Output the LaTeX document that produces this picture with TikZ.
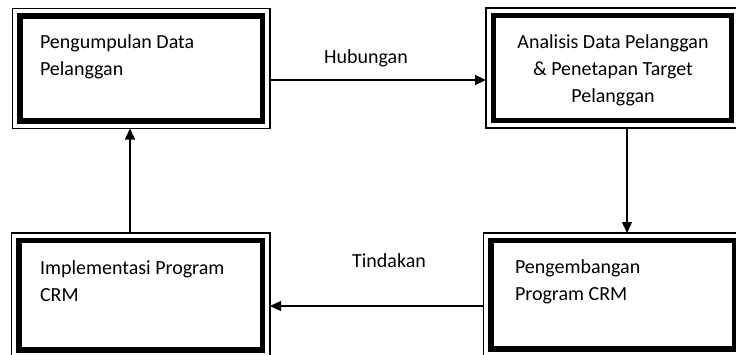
\documentclass[tikz,border=0pt]{standalone}
\usepackage{fontspec}
\setmainfont{Carlito}
\usetikzlibrary{arrows.meta}
\begin{document}
\begin{tikzpicture}[x=1pt,y=-1pt,
  thickbox/.style={draw,line width=5.5pt,inner sep=0pt,outer sep=0pt},
  thinbox/.style={draw,line width=1.1pt,inner sep=0pt,outer sep=0pt},
  boxtext/.style={inner sep=0pt,outer sep=0pt,font=\fontsize{20}{27}\selectfont},
  lbl/.style={inner sep=0pt,font=\fontsize{20}{24}\selectfont},
  arr/.style={line width=1.3pt,-{Triangle[length=11pt,width=10pt]}}]
\useasboundingbox (0,0) rectangle (736,354);
\clip (0,0) rectangle (736,354);
% boxes
\node[thickbox,minimum width=242.5,minimum height=105] (tl) at (141.25,68.5) {};
\node[thinbox,minimum width=257.5,minimum height=120] (tlo) at (tl.center) {};
\node[thickbox,minimum width=238,minimum height=105] (tr) at (612.5,68) {};
\node[thinbox,minimum width=253,minimum height=120] (tro) at (tr.center) {};
\node[thickbox,minimum width=243.5,minimum height=109.5] (bl) at (140.75,295.25) {};
\node[thinbox,minimum width=258.5,minimum height=124.5] (blo) at (bl.center) {};
\node[thickbox,minimum width=243.5,minimum height=108.5] (br) at (612.75,294.75) {};
\node[thinbox,minimum width=258.5,minimum height=123.5] (bro) at (br.center) {};
% texts (base anchor = baseline of last line)
\node[boxtext,align=left,anchor=base west] (t1) at (40,75) {Pengumpulan Data\\Pelanggan};
\node[boxtext,align=center,anchor=base] (t2) at (613,102) {Analisis Data Pelanggan\\\& Penetapan Target\\Pelanggan};
\node[boxtext,align=left,anchor=base west] (t3) at (40,301) {Implementasi Program\\CRM};
\node[boxtext,align=left,anchor=base west] (t4) at (515,300) {Pengembangan\\Program CRM};
% connectors
\coordinate (h1) at (0,80);
\coordinate (h2) at (0,306);
\coordinate (v1) at (627,0);
\coordinate (v2) at (130,0);
\draw[arr] (tlo.east |- h1) -- (tro.west |- h1);
\draw[arr] (tro.south -| v1) -- (bro.north -| v1);
\draw[arr] (bro.west |- h2) -- (blo.east |- h2);
\draw[arr] (blo.north -| v2) -- (tlo.south -| v2);
% labels
\node[lbl,anchor=base] (hub) at (366,63) {Hubungan};
\node[lbl,anchor=base] (tin) at (389,267) {Tindakan};
\end{tikzpicture}
\end{document}
